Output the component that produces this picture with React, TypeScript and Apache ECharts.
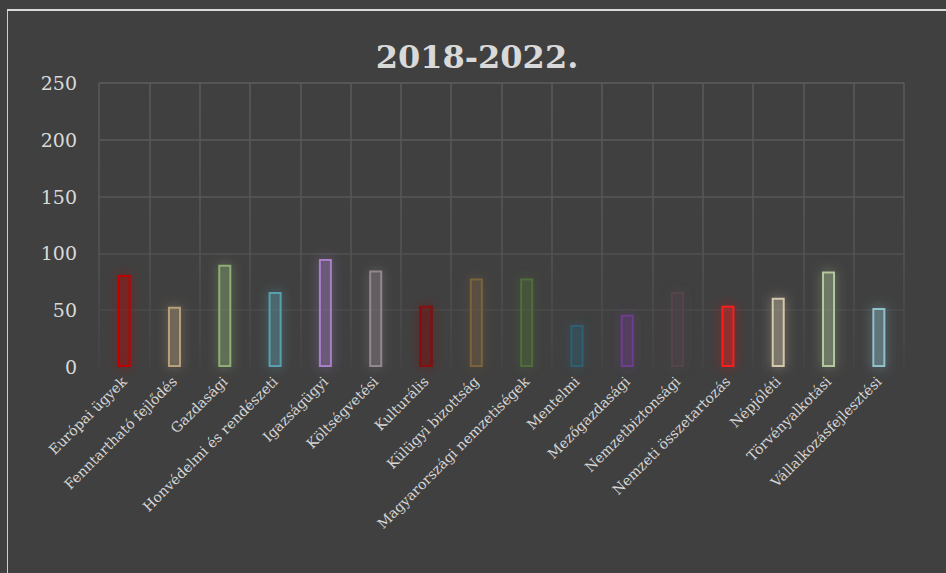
import React, { useEffect, useRef } from "react";
import * as echarts from "echarts";

const categories = [
  "Európai ügyek",
  "Fenntartható fejlődés",
  "Gazdasági",
  "Honvédelmi és rendészeti",
  "Igazságügyi",
  "Költségvetési",
  "Kulturális",
  "Külügyi bizottság",
  "Magyarországi nemzetiségek",
  "Mentelmi",
  "Mezőgazdasági",
  "Nemzetbiztonsági",
  "Nemzeti összetartozás",
  "Népjóléti",
  "Törvényalkotási",
  "Vállalkozásfejlesztési",
];

const values = [81, 53, 90, 66, 95, 85, 54, 78, 78, 37, 46, 66, 54, 61, 84, 52];

const barColors = [
  "#c00000",
  "#b8a07a",
  "#8eb074",
  "#5a9fb0",
  "#a77fc7",
  "#958790",
  "#8b0a0a",
  "#7b643e",
  "#4f6e3b",
  "#2d6072",
  "#6e3d90",
  "#54454c",
  "#ff1a1a",
  "#d4c8ac",
  "#b3c99b",
  "#8fc0cc",
];

const yTicks = { min: 0, max: 250, interval: 50 };
const titleText = "2018-2022.";

export default function App() {
  const ref = useRef<HTMLDivElement>(null);

  useEffect(() => {
    document.body.style.margin = "0";
    document.body.style.background = "#404040";
    if (!ref.current) return;
    const chart = echarts.init(ref.current, undefined, { renderer: "svg" });
    const font = "'DejaVu Serif', Georgia, serif";
    chart.setOption({
      animation: false,
      backgroundColor: "#404040",
      title: {
        text: titleText,
        left: "center",
        top: 25,
        textStyle: {
          fontFamily: font,
          fontWeight: "bold",
          fontSize: 32,
          color: "#d9d9d9",
        },
      },
      grid: { left: 91, right: 42, top: 72, bottom: 206 },
      xAxis: {
        type: "category",
        data: categories,
        axisLine: { show: false },
        axisTick: { show: false },
        axisLabel: {
          interval: 0,
          rotate: 45,
          margin: 12,
          fontFamily: font,
          fontSize: 14,
          color: "#d6d6d6",
        },
        splitLine: {
          show: true,
          lineStyle: {
            width: 1.5,
            color: new echarts.graphic.LinearGradient(
              0,
              72,
              0,
              356,
              [
                { offset: 0, color: "#5a5a5a" },
                { offset: 0.55, color: "#555555" },
                { offset: 1, color: "#444444" },
              ],
              true
            ),
          },
        },
      },
      yAxis: {
        type: "value",
        min: yTicks.min,
        max: yTicks.max,
        interval: yTicks.interval,
        axisLine: { show: false },
        axisTick: { show: false },
        axisLabel: {
          margin: 22,
          fontFamily: font,
          fontSize: 19,
          color: "#d9d9d9",
        },
        splitLine: {
          show: true,
          lineStyle: {
            width: 1.5,
            color: ["#404040", "#4a4a4a", "#515151", "#575757", "#5a5a5a", "#5c5c5c"],
          },
        },
      },
      series: [
        {
          type: "bar",
          barWidth: 13,
          data: values.map((v, i) => ({
            value: v,
            itemStyle: {
              color: barColors[i] + "40",
              borderColor: barColors[i],
              borderWidth: 2,
              shadowBlur: 12,
              shadowColor: barColors[i] + "aa",
            },
          })),
        },
      ],
    });
    return () => chart.dispose();
  }, []);

  return (
    <div
      style={{
        position: "absolute",
        left: 7,
        top: 9,
        width: 939,
        height: 564,
        borderTop: "2px solid #d9d9d9",
        borderLeft: "1px solid #cfcfcf",
        boxSizing: "border-box",
        background: "#404040",
      }}
    >
      <div ref={ref} style={{ width: 938, height: 562 }} />
    </div>
  );
}
